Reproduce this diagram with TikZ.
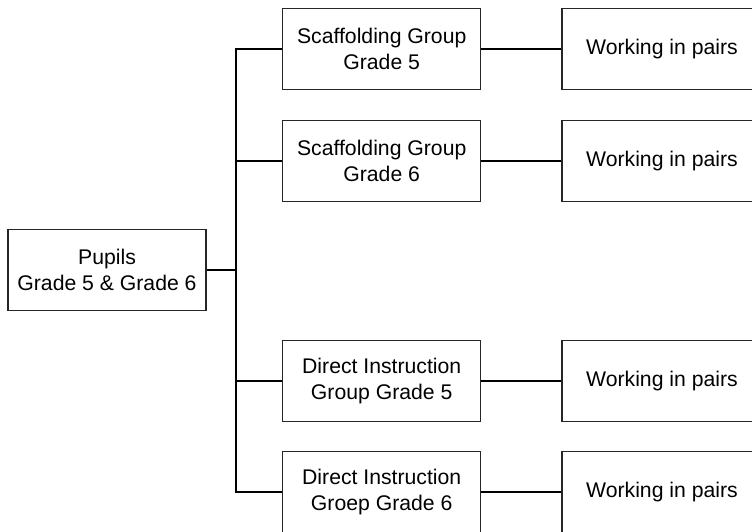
\documentclass[tikz,border=0pt]{standalone}
\usepackage{fontspec}
\setmainfont{Liberation Sans}
\begin{document}
\begin{tikzpicture}[x=1pt,y=-1pt,
  box/.style={draw=black!85,line width=1.3pt,minimum width=198pt,minimum height=81pt,inner sep=0pt,align=center,font=\fontsize{21.2}{25.5}\selectfont},
  wbox/.style={box,minimum width=200pt},
  conn/.style={draw=black,line width=2pt}]
\useasboundingbox (0,0) rectangle (752,531);
\clip (0,0) rectangle (752,531);
\node[box] (p) at (107,270) {Pupils\\Grade 5 \& Grade 6};
\node[box] (m1) at (381.7,49) {Scaffolding Group\\Grade 5};
\node[box] (m2) at (381.7,161) {Scaffolding Group\\Grade 6};
\node[box] (m3) at (381.7,381) {Direct Instruction\\Group Grade 5};
\node[box] (m4) at (381.7,492) {Direct Instruction\\Groep Grade 6};
\node[wbox] (r1) at (662,49) {Working in pairs};
\node[wbox] (r2) at (662,161) {Working in pairs};
\node[wbox] (r3) at (662,381) {Working in pairs};
\node[wbox] (r4) at (662,492) {Working in pairs};
\coordinate (bus) at (236,0);
\draw[conn] (p.east) -- (bus |- p.east);
\draw[conn] (bus |- m1.west) -- (m1.west);
\draw[conn] (bus |- m2.west) -- (m2.west);
\draw[conn] (bus |- m3.west) -- (m3.west);
\draw[conn] (bus |- m4.west) -- (m4.west);
\draw[conn,line cap=rect] (bus |- m1.west) -- (bus |- m4.west);
\draw[conn] (m1.east) -- (r1.west);
\draw[conn] (m2.east) -- (r2.west);
\draw[conn] (m3.east) -- (r3.west);
\draw[conn] (m4.east) -- (r4.west);
\end{tikzpicture}
\end{document}
